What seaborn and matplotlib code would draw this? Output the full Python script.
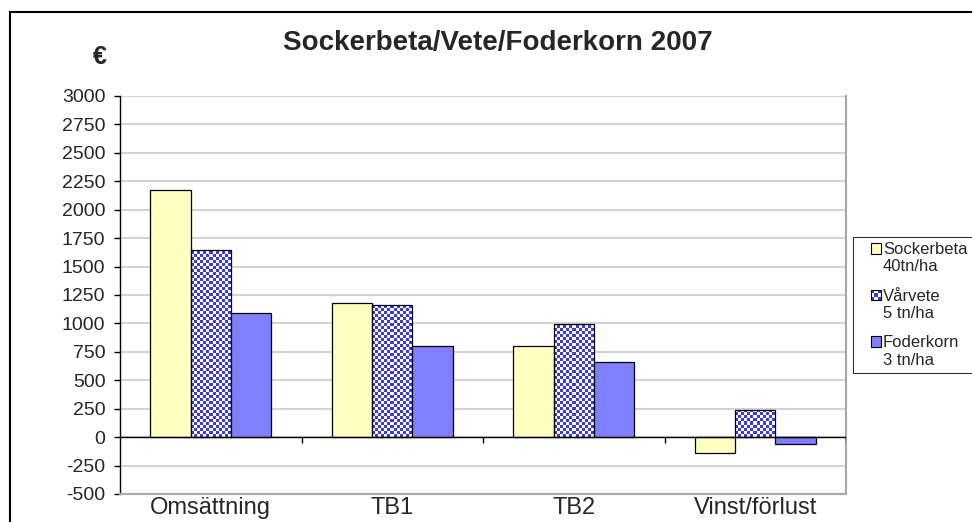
import numpy as np
import pandas as pd
import matplotlib.pyplot as plt
import seaborn as sns
from matplotlib.patches import Patch, Rectangle
from matplotlib.colors import ListedColormap
from matplotlib.legend_handler import HandlerBase

sns.set_theme(style="white")
plt.rcParams['font.family'] = ['Liberation Sans', 'DejaVu Sans']
plt.rcParams['axes.unicode_minus'] = False

# Data
kategorier = ['Omsättning', 'TB1', 'TB2', 'Vinst/förlust']
grodor = ['Sockerbeta\n40tn/ha', 'Vårvete\n5 tn/ha', 'Foderkorn\n3 tn/ha']
sockerbeta = [2170, 1180, 800, -140]
varvete = [1650, 1160, 995, 240]
foderkorn = [1090, 800, 660, -60]
yticks = list(range(-500, 3001, 250))

farger = ['#ffffc0', '#3c3cdc', '#8080ff']
rutbla = '#3c3cdc'

df = pd.DataFrame({
    'kategori': kategorier * 3,
    'gröda': np.repeat(grodor, len(kategorier)),
    'euro': sockerbeta + varvete + foderkorn,
})

fig = plt.figure(figsize=(9.72, 5.22), dpi=100)
ax = fig.add_axes([120 / 972, 1 - 494 / 522, 726 / 972, 398 / 522])

sns.barplot(data=df, x='kategori', y='euro', hue='gröda', hue_order=grodor,
            palette=farger, saturation=1, width=0.667, edgecolor='black',
            linewidth=0.9, legend=False, ax=ax, zorder=3)

ax.set_xlim(-0.5, 3.5)
ax.set_ylim(-500, 3000)
ax.set_yticks(yticks)

# rutmönster (schackruta) på Vårvete-staplarna, en bildpunkt per skärmpunkt
for bar in ax.containers[1]:
    x0, y0 = bar.get_x(), bar.get_y()
    w, h = bar.get_width(), bar.get_height()
    ya, yb = min(y0, y0 + h), max(y0, y0 + h)
    (px0, py0), (px1, py1) = ax.transData.transform([(x0, ya), (x0 + w, yb)])
    nx = max(1, int(round(px1 - px0)))
    ny = max(1, int(round(py1 - py0)))
    rad, kol = np.indices((ny, nx))
    ruta = ((rad // 3) + (kol // 3)) % 2
    im = ax.imshow(ruta, extent=(x0, x0 + w, ya, yb), origin='lower',
                   cmap=ListedColormap(['white', rutbla]), interpolation='nearest',
                   aspect='auto', zorder=2.5)
    im.set_clip_path(bar)
    bar.set_facecolor('none')

ax.set_xlim(-0.5, 3.5)
ax.set_ylim(-500, 3000)

ax.yaxis.grid(True, color='#d4d4d4', lw=1.5)
ax.set_axisbelow(True)
ax.set_xlabel('')
ax.set_ylabel('')
ax.spines['left'].set_color('black')
ax.spines['left'].set_linewidth(1)
for s in ['right', 'bottom', 'top']:
    ax.spines[s].set_color('#a8a8a8')
    ax.spines[s].set_linewidth(1.5)
ax.spines['top'].set_visible(False)
ax.tick_params(axis='y', left=True, length=4.5, width=1, color='black', pad=6, labelsize=14)
ax.tick_params(axis='x', bottom=False, length=0, pad=2, labelsize=17)

# nollinje med skiljestreck
ax.axhline(0, color='black', lw=1, zorder=4)
ax.vlines([0.5, 1.5, 2.5, 3.5], -55, 0, color='black', lw=1, zorder=4)

fig.text(498 / 972, 1 - 43 / 522, 'Sockerbeta/Vete/Foderkorn 2007',
         ha='center', va='center', fontsize=20, fontweight='bold')
fig.text(100 / 972, 1 - 57 / 522, '€', ha='center', va='center',
         fontsize=18, fontweight='bold')


class RutHandler(HandlerBase):
    def create_artists(self, legend, orig_handle, xdescent, ydescent,
                       width, height, fontsize, trans):
        sida = 7.5
        x = -xdescent + width - sida
        y = -ydescent + height / 2 + 0.6 * fontsize - sida / 2
        delar = []
        fc = orig_handle.get_facecolor()
        if orig_handle.get_hatch():
            delar.append(Rectangle((x, y), sida, sida, facecolor='white', lw=0, transform=trans))
            n = 3
            s = sida / n
            for i in range(n):
                for j in range(n):
                    if (i + j) % 2 == 0:
                        delar.append(Rectangle((x + i * s, y + j * s), s, s,
                                               facecolor=rutbla, lw=0, transform=trans))
            fc = 'none'
        delar.append(Rectangle((x, y), sida, sida, facecolor=fc, edgecolor='black',
                               lw=0.8, transform=trans))
        return delar


handles = [
    Patch(facecolor=farger[0], edgecolor='black', label=grodor[0]),
    Patch(facecolor='white', edgecolor='black', hatch='x', label=grodor[1]),
    Patch(facecolor=farger[2], edgecolor='black', label=grodor[2]),
]
leg = fig.legend(handles=handles, loc='upper left',
                 bbox_to_anchor=(853 / 972, 1 - 237 / 522), borderaxespad=0,
                 fontsize=12, frameon=True, fancybox=False, edgecolor='black',
                 handlelength=1.4, handleheight=0.7, handletextpad=0.1,
                 labelspacing=0.85, borderpad=0.3,
                 handler_map={Patch: RutHandler()})
leg.get_frame().set_linewidth(0.8)

# yttre ram
fig.add_artist(Rectangle((10 / 972, -0.5), 2, 0.5 + 1 - 12 / 522,
                         transform=fig.transFigure, fill=False,
                         edgecolor='black', lw=1.5))

fig.savefig('out.png', dpi=100)
